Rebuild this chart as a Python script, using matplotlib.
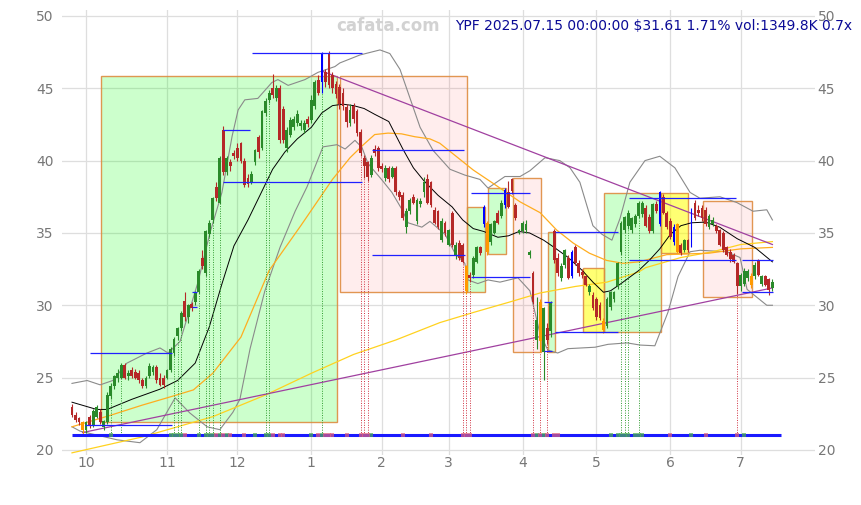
import matplotlib
matplotlib.use("Agg")
import matplotlib.pyplot as plt
import pandas as pd
from matplotlib.patches import Rectangle

# Trading days (NYSE), 2024-09-25 .. 2025-07-15
HOLIDAYS = pd.to_datetime([
    "2024-11-28", "2024-12-25", "2025-01-01", "2025-01-09", "2025-01-20",
    "2025-02-17", "2025-04-18", "2025-05-26", "2025-06-19", "2025-07-04",
])
dates = pd.bdate_range("2024-09-25", "2025-07-15")
dates = dates[~dates.isin(HOLIDAYS)]

opens = [
    23.0, 22.4, 22.2, 21.9, 21.4, 22.3, 21.7, 22.3, 22.6, 21.6,
    21.9, 23.7, 24.4, 25.0, 25.0, 25.9, 25.1, 25.5, 25.4, 25.3,
    24.8, 24.4, 25.1, 25.4, 25.7, 25.0, 25.0, 25.0, 25.5, 26.7,
    27.9, 28.4, 30.3, 29.2, 30.1, 30.2, 30.9, 33.3, 32.2, 34.9,
    35.9, 38.2, 37.1, 42.1, 39.2, 39.9, 40.5, 40.9, 41.2, 40.0,
    38.8, 38.5, 39.9, 41.6, 40.9, 43.3, 44.2, 45.0, 44.3, 45.0,
    43.6, 40.9, 41.8, 42.3, 42.6, 42.4, 42.1, 42.9, 42.8, 43.8,
    45.6, 45.4, 46.1, 47.4, 45.9, 45.3, 45.1, 44.7, 43.7, 42.6,
    43.8, 43.4, 42.0, 40.2, 39.9, 39.0, 40.8, 40.9, 39.6, 38.8,
    39.5, 38.9, 39.5, 37.8, 37.6, 35.4, 36.5, 37.5, 35.8, 37.0,
    37.8, 38.7, 38.5, 36.6, 36.5, 34.5, 35.7, 34.2, 36.4, 33.4,
    34.3, 34.2, 32.7, 32.1, 32.1, 33.0, 34.0, 35.6, 35.7, 34.4,
    35.0, 36.4, 36.2, 36.9, 37.8, 38.7, 36.9, 35.0, 35.1, 35.2,
    33.5, 32.2, 27.6, 30.2, 26.8, 28.4, 28.2, 35.1, 33.3, 31.9,
    32.8, 33.3, 32.0, 34.0, 32.9, 32.3, 32.0, 30.9, 30.7, 30.4,
    30.0, 28.9, 28.6, 29.9, 30.4, 31.3, 33.7, 35.2, 35.5, 35.2,
    35.6, 36.2, 36.3, 36.7, 36.1, 35.1, 37.0, 35.6, 37.5, 36.4,
    35.8, 34.4, 35.6, 34.2, 33.8, 34.5, 34.2, 37.1, 36.6, 36.7,
    36.6, 35.4, 35.6, 35.5, 35.2, 35.0, 34.0, 33.7, 33.5, 32.9,
    31.3, 31.5, 31.9, 32.0, 32.0, 33.1, 31.5, 32.0, 31.8, 31.2,
]
highs = [
    23.2, 22.6, 22.3, 22.0, 22.0, 22.4, 22.8, 23.1, 22.8, 22.1,
    24.0, 24.6, 25.2, 25.6, 26.0, 26.0, 25.5, 25.7, 25.6, 25.5,
    25.0, 25.1, 26.0, 25.9, 25.9, 25.3, 25.2, 25.6, 27.1, 27.8,
    28.5, 29.6, 30.9, 30.1, 30.2, 31.0, 32.5, 33.8, 35.2, 35.9,
    37.5, 38.5, 40.3, 42.4, 40.3, 40.1, 40.7, 41.2, 41.3, 40.2,
    39.1, 39.3, 40.8, 41.8, 43.5, 44.3, 44.9, 46.0, 45.2, 45.2,
    43.8, 42.3, 43.0, 43.1, 43.5, 42.8, 42.8, 43.1, 44.5, 45.6,
    45.9, 47.5, 46.3, 47.6, 46.1, 45.5, 45.3, 45.0, 43.9, 43.9,
    44.0, 43.6, 42.2, 40.4, 40.0, 40.4, 41.1, 41.0, 39.8, 39.7,
    39.6, 39.6, 39.6, 38.0, 37.8, 36.7, 37.4, 37.7, 37.4, 37.4,
    38.9, 39.1, 38.6, 36.8, 36.6, 36.0, 35.8, 35.3, 36.5, 34.4,
    34.5, 34.3, 32.8, 32.3, 33.4, 34.1, 34.1, 36.9, 35.8, 35.7,
    35.9, 36.6, 37.3, 38.1, 38.6, 38.8, 37.1, 35.3, 35.8, 35.9,
    33.8, 32.4, 30.6, 30.4, 29.9, 28.8, 30.3, 35.3, 33.6, 32.9,
    33.9, 33.5, 33.8, 34.2, 33.1, 32.5, 32.1, 31.5, 30.9, 30.6,
    30.2, 29.1, 30.6, 31.0, 31.0, 33.0, 35.8, 36.2, 36.6, 36.1,
    36.3, 37.2, 37.2, 36.9, 36.3, 37.1, 37.2, 37.9, 37.7, 36.5,
    36.0, 35.6, 35.7, 34.3, 34.6, 34.6, 36.7, 37.3, 36.9, 36.9,
    36.8, 36.3, 36.1, 35.6, 35.3, 35.1, 34.1, 33.9, 33.6, 33.0,
    32.2, 32.6, 32.5, 32.2, 33.0, 33.2, 32.1, 32.1, 31.9, 31.8,
]
lows = [
    22.3, 21.9, 21.7, 21.0, 21.2, 21.5, 21.6, 22.2, 21.8, 21.4,
    21.8, 23.5, 24.2, 24.7, 24.9, 24.9, 24.8, 25.0, 24.9, 24.6,
    24.3, 24.3, 25.0, 25.2, 24.6, 24.4, 24.3, 24.9, 25.4, 26.5,
    27.6, 28.2, 28.9, 28.8, 29.6, 30.0, 30.8, 32.5, 32.0, 34.7,
    35.7, 37.2, 37.0, 39.0, 39.0, 39.3, 40.1, 40.0, 39.8, 38.2,
    38.2, 38.4, 39.7, 40.2, 40.7, 43.1, 44.0, 44.3, 44.1, 41.2,
    41.2, 40.6, 41.6, 42.1, 42.4, 42.1, 41.9, 42.3, 42.6, 43.6,
    44.5, 44.7, 45.1, 45.0, 44.7, 44.3, 43.6, 43.5, 42.3, 42.4,
    42.6, 41.7, 40.3, 38.8, 38.6, 38.9, 40.3, 39.3, 39.2, 38.6,
    38.5, 38.8, 37.6, 37.3, 35.9, 35.0, 36.3, 37.0, 35.6, 36.8,
    37.5, 37.0, 36.8, 35.6, 35.3, 34.4, 34.8, 34.1, 34.0, 33.2,
    33.1, 32.9, 30.8, 31.6, 31.9, 32.9, 33.5, 35.4, 33.5, 34.2,
    34.9, 35.6, 36.0, 36.7, 36.7, 37.7, 35.9, 34.9, 35.0, 35.0,
    33.3, 30.1, 27.0, 26.8, 24.8, 27.3, 27.8, 32.9, 32.0, 31.7,
    32.6, 31.8, 31.9, 32.8, 32.0, 31.9, 31.3, 30.7, 29.7, 29.0,
    29.0, 28.1, 28.4, 29.7, 30.2, 31.1, 33.5, 35.0, 35.3, 35.0,
    35.4, 36.0, 36.1, 35.4, 35.0, 35.0, 36.4, 35.5, 36.3, 35.3,
    34.6, 34.2, 33.6, 33.5, 33.7, 33.7, 34.0, 35.9, 36.2, 35.8,
    35.5, 35.3, 35.5, 35.0, 34.1, 33.7, 33.4, 33.0, 32.9, 30.8,
    31.0, 31.3, 31.7, 31.2, 31.8, 32.0, 31.3, 31.3, 30.7, 31.0,
]
closes = [
    22.4, 22.1, 21.9, 21.4, 21.9, 21.7, 22.7, 23.0, 21.9, 22.0,
    23.8, 24.4, 25.1, 25.3, 25.9, 25.0, 25.3, 25.1, 25.0, 24.8,
    24.4, 25.0, 25.8, 25.7, 24.8, 24.5, 24.5, 25.5, 27.0, 27.7,
    28.4, 29.5, 29.2, 30.0, 29.8, 30.9, 32.4, 32.7, 35.1, 35.7,
    37.4, 37.4, 40.2, 39.2, 40.2, 39.6, 40.3, 40.2, 40.0, 38.3,
    38.4, 39.1, 40.7, 40.6, 43.4, 44.1, 44.7, 44.5, 45.0, 41.4,
    41.4, 42.1, 42.8, 42.9, 43.2, 42.6, 42.6, 42.5, 44.2, 45.4,
    44.7, 47.4, 45.4, 45.2, 45.0, 44.6, 43.9, 43.8, 42.7, 43.5,
    42.9, 41.9, 40.5, 39.6, 38.9, 40.2, 40.5, 39.5, 39.4, 39.5,
    38.7, 39.5, 37.8, 37.5, 36.0, 36.5, 37.3, 37.1, 37.3, 37.2,
    38.5, 37.1, 36.9, 35.7, 35.4, 35.8, 35.0, 35.2, 34.2, 34.2,
    33.3, 33.0, 31.0, 31.9, 33.3, 34.0, 33.6, 36.8, 33.7, 35.6,
    35.8, 35.7, 37.1, 38.0, 36.8, 37.9, 36.0, 35.2, 35.7, 35.6,
    33.7, 30.2, 29.0, 27.5, 29.8, 27.6, 30.2, 33.1, 32.2, 32.7,
    33.8, 31.9, 33.7, 32.9, 32.2, 32.1, 31.4, 31.3, 29.8, 29.2,
    29.1, 28.3, 30.4, 30.9, 30.9, 32.9, 35.7, 36.1, 36.4, 36.0,
    36.2, 37.1, 37.1, 35.5, 35.1, 37.0, 36.5, 37.8, 36.4, 35.4,
    34.7, 35.4, 33.7, 33.6, 34.5, 33.8, 36.6, 36.0, 36.4, 36.0,
    35.6, 36.2, 35.9, 35.1, 34.2, 33.8, 33.5, 33.2, 33.0, 31.3,
    32.1, 32.4, 32.4, 31.4, 32.8, 32.1, 32.0, 31.4, 31.08, 31.61,
]
orange_days = [3, 112, 118, 133, 151, 172, 193]
blue_days = [71, 117, 123, 142, 167, 171, 176]

# Moving averages / bands (day index, price)
ma_short_x = [0, 7, 10, 17, 25, 30, 35, 39, 42.5, 46, 50, 53, 57, 60.5, 64, 68, 71, 74, 77, 80,
              83, 86, 90, 94, 97, 100, 104, 108, 111, 114, 117, 121, 124, 127, 130, 134, 137,
              141, 145, 148, 151, 153, 156, 161, 164, 167, 170, 173, 176, 180, 184, 189, 194, 199]
ma_short_y = [23.3, 22.8, 22.8, 23.5, 24.2, 24.8, 26.0, 28.5, 31.4, 34.1, 35.9, 37.4, 39.4, 40.6,
              41.5, 42.3, 43.3, 43.8, 43.9, 43.8, 43.6, 43.2, 42.7, 40.8, 39.5, 38.6, 37.6, 36.8,
              35.9, 35.3, 35.1, 34.7, 34.8, 35.1, 35.0, 34.5, 34.0, 33.3, 32.4, 31.6, 30.9, 31.0,
              31.5, 32.4, 33.1, 33.9, 34.9, 35.5, 35.7, 35.75, 35.4, 34.6, 34.0, 33.0]
ma_mid_x = [0, 11, 20, 27, 34.5, 40, 48, 56, 65, 74, 79, 82.8, 86, 89.8, 93.6, 97.4, 101.7, 104.5,
            114, 119.5, 127.3, 133, 137.7, 142.4, 147, 151.9, 156.6, 161, 169, 181, 190, 199]
ma_mid_y = [21.6, 22.4, 23.1, 23.6, 24.15, 25.3, 27.8, 32.4, 35.5, 38.7, 40.2, 41.1, 41.8, 41.9,
            41.85, 41.65, 41.5, 41.2, 39.35, 38.45, 37.15, 36.4, 35.2, 34.3, 33.6, 33.1, 32.9,
            33.0, 33.5, 33.6, 33.9, 34.0]
ma_long_x = [0, 20, 40, 55, 68, 80, 92, 104.5, 114, 124, 133, 143, 152, 161, 163, 173, 182, 190, 199]
ma_long_y = [19.8, 20.9, 22.3, 23.8, 25.3, 26.6, 27.6, 28.8, 29.5, 30.2, 30.85, 31.3, 31.6, 32.3,
             32.6, 33.3, 33.7, 34.2, 34.4]
band_up_x = [0, 4.3, 8, 11.6, 15.6, 21.3, 25, 27.3, 30.7, 35.8, 39.2, 42.6, 45.5, 47.2, 49.1,
             52.8, 56.8, 58.5, 61.4, 66.2, 69.9, 74.7, 76.1, 81.8, 87.5, 90.3, 93.2, 95.2, 98.9,
             102.6, 107.4, 111.6, 115.9, 118.2, 123, 127.3, 130.1, 134.4, 138.6, 141.5, 144.3,
             148, 150.6, 153.4, 155.7, 158.5, 162.8, 167, 171.3, 175.6, 178.4, 184.1, 188.9,
             193.5, 197.4, 199]
band_up_y = [24.6, 24.8, 24.5, 24.8, 26.0, 26.7, 27.05, 26.7, 27.5, 31.6, 35.0, 37.8, 41.7, 43.5,
             44.2, 44.3, 45.4, 45.6, 45.2, 45.6, 46.1, 46.5, 46.75, 47.3, 47.65, 47.4, 46.3, 44.9,
             42.3, 40.7, 39.4, 39.0, 38.7, 38.1, 38.9, 38.9, 39.3, 40.2, 40.0, 39.5, 38.5, 35.5,
             34.9, 34.5, 36.0, 38.5, 40.0, 40.3, 39.5, 37.8, 37.4, 37.5, 37.1, 36.5, 36.6, 35.9]
band_lo_x = [0, 2.3, 12.8, 19.3, 24.1, 29.3, 33.5, 38.4, 42, 45.7, 47.7, 50.6, 54.8, 59.1, 63.4,
             66.8, 71.3, 75.3, 77.6, 80.4, 82.4, 84.1, 88.1, 90.9, 93.8, 95.5, 99.4, 101.7, 106,
             108.8, 111.6, 112.5, 115.3, 118.2, 121.6, 126.7, 130.1, 133, 135.2, 138, 140.9,
             148.6, 152.3, 157.7, 161.4, 165.6, 169.3, 172.2, 175.6, 178.4, 186, 189.8, 191.8,
             197.4, 199]
band_lo_y = [21.6, 21.3, 20.7, 20.5, 21.4, 23.6, 22.55, 21.6, 21.4, 22.6, 23.5, 27.0, 31.0, 34.0,
             36.5, 38.2, 40.95, 41.1, 40.8, 41.4, 40.9, 39.8, 38.65, 37.8, 36.6, 35.7, 35.4, 35.8,
             34.9, 33.6, 32.9, 31.75, 31.5, 31.75, 31.6, 31.9, 31.0, 28.0, 26.9, 26.7, 27.0, 27.1,
             27.3, 27.4, 27.25, 27.2, 29.5, 32.0, 33.7, 33.8, 33.7, 33.3, 31.1, 30.0, 30.0]

# Zones: (start day, end day, low, high, kind)
zones = [
    (8.2, 75.3, 21.9, 45.85, "up"),
    (76.1, 112.2, 30.9, 45.85, "down"),
    (112.2, 117.3, 30.9, 36.8, "up"),
    (118.2, 123.3, 33.55, 38.1, "up"),
    (125.3, 133.2, 26.8, 38.8, "down"),
    (135.2, 137.2, 26.8, 35.05, "up"),
    (145.2, 151.1, 28.15, 32.6, "flat"),
    (151.1, 167.3, 28.15, 37.75, "up"),
    (167.3, 175.0, 33.6, 37.75, "flat"),
    (179.3, 193.2, 30.6, 37.2, "down"),
]
# Support / resistance levels: (start day, end day, price)
levels = [
    (3.7, 28.4, 21.73), (5.1, 28.4, 26.7), (42.9, 50.6, 42.1), (42.9, 82.4, 38.55),
    (51.1, 82.4, 47.47), (85.2, 111.4, 40.72), (85.2, 111.6, 33.48), (113.4, 130.1, 37.74),
    (113.4, 130.1, 31.94), (134.1, 136.4, 30.2), (134.1, 136.4, 26.85), (137.2, 155.1, 35.05),
    (137.2, 155.1, 28.18), (158.2, 188.6, 37.4), (158.2, 188.6, 33.13), (190.3, 199.1, 33.1),
    (190.3, 199.1, 30.9), (34.0, 35.5, 30.95), (34.0, 35.5, 29.86),
]
trend_upper = ([71.4, 199], [46.15, 34.2])
trend_lower = ([3, 199], [21.2, 31.2])

sig_green = [11, 28, 29, 30, 31, 36, 38, 39, 40, 42, 44, 52, 55, 56, 68, 71, 85, 132, 134,
             153, 155, 156, 157, 158, 160, 161, 162, 176, 191]
sig_red = [32, 41, 43, 45, 49, 57, 59, 60, 70, 72, 73, 74, 78, 82, 83, 84, 94, 102, 111, 112,
           113, 131, 133, 135, 137, 138, 170, 180, 189]
dotted_green = [11, 14, 29, 30, 31, 36, 38, 39, 40, 42, 55, 56, 71, 156, 157, 158, 161]
dotted_red = [82, 83, 84, 111, 112, 113, 131, 133, 135, 189]
BASE = 21.05

ZONE_STYLE = {
    "up": dict(facecolor=(0.0, 1.0, 0.0, 0.2)),
    "down": dict(facecolor=(1.0, 0.0, 0.0, 0.07)),
    "flat": dict(facecolor=(1.0, 1.0, 0.0, 0.55)),
}

fig = plt.figure(figsize=(8.61, 5.05), dpi=100)
ax = fig.add_axes([62 / 861, 50 / 505, 753 / 861, 445 / 505])

n = len(closes)
x = list(range(n))

for s, e, lo, hi, kind in zones:
    ax.add_patch(Rectangle((s, lo), e - s, hi - lo, edgecolor=(0.87, 0.55, 0.25, 0.9),
                           linewidth=1.0, zorder=1, **ZONE_STYLE[kind]))

ax.plot(band_up_x, band_up_y, color="#8a8a8a", lw=0.8, zorder=2)
ax.plot(band_lo_x, band_lo_y, color="#8a8a8a", lw=0.8, zorder=2)
ax.plot(ma_long_x, ma_long_y, color="#ffd21f", lw=0.9, zorder=2)
ax.plot(ma_mid_x, ma_mid_y, color="#ffad1f", lw=0.9, zorder=2)
ax.plot(ma_short_x, ma_short_y, color="black", lw=0.7, zorder=2)
ax.plot(*trend_upper, color="#a040a0", lw=0.9, zorder=3)
ax.plot(*trend_lower, color="#a040a0", lw=0.9, zorder=3)

for d in dotted_green:
    ax.vlines(d, BASE, lows[d], colors="#2e9b2e", linestyles=(0, (1, 1.5)), lw=0.7, zorder=3)
for d in dotted_red:
    ax.vlines(d, BASE, lows[d], colors="#d03040", linestyles=(0, (1, 1.5)), lw=0.7, zorder=3)

for s, e, p in levels:
    ax.hlines(p, s, e, colors="#2020ff", lw=0.9, zorder=5)

# candles
for i in x:
    o, h, l, c = opens[i], highs[i], lows[i], closes[i]
    if i in blue_days:
        col, w = "#0000ff", 0.45
    elif i in orange_days:
        col, w = "#ff9900", 0.8
    else:
        col, w = ("#2a8a2a" if c >= o else "#b52828"), 0.8
    ax.vlines(i, l, h, colors=col, lw=0.8, zorder=4)
    ax.bar(i, max(abs(c - o), 0.06), bottom=min(o, c), width=w, color=col,
           linewidth=0, zorder=4)

ax.hlines(BASE, 0, 201.5, colors="#1a1aff", lw=2.2, zorder=5)
ax.plot(sig_green, [BASE] * len(sig_green), "s", color="#4caf50", ms=3.5, alpha=0.7,
        mew=0, zorder=6)
ax.plot(sig_red, [BASE] * len(sig_red), "s", color="#e0607a", ms=3.5, alpha=0.7,
        mew=0, zorder=6)

# axes styling
month_pos = [i for i in range(1, n) if dates[i].month != dates[i - 1].month]
ax.set_xticks(month_pos)
ax.set_xticklabels([str(dates[i].month) for i in month_pos])
ax.set_yticks(range(20, 51, 5))
ax.set_xlim(-2.84, 211.1)
ax.set_ylim(19.65, 50.41)
ax.grid(True, color="#dedede", lw=0.9)
ax.set_axisbelow(True)
for sp in ax.spines.values():
    sp.set_visible(False)
ax.tick_params(axis="y", length=0, labelsize=10, labelcolor="#777777", pad=6)
ax.tick_params(axis="x", length=0, labelsize=10, labelcolor="#777777", pad=1)

ax_r = ax.twinx()
ax_r.set_ylim(ax.get_ylim())
ax_r.set_yticks(range(20, 51, 5))
for sp in ax_r.spines.values():
    sp.set_visible(False)
ax_r.tick_params(axis="y", length=0, labelsize=10, labelcolor="#777777", pad=2)

fig.text(388 / 861, 1 - 26 / 505, "cafata.com", color="#d2d2d2", fontsize=12,
         fontweight="bold", ha="center", va="center")
fig.text(455 / 861, 1 - 26 / 505, "YPF 2025.07.15 00:00:00 $31.61 1.71% vol:1349.8K 0.7x",
         color="#0a0a96", fontsize=10, ha="left", va="center", zorder=10)

fig.savefig("out.png", dpi=100)
